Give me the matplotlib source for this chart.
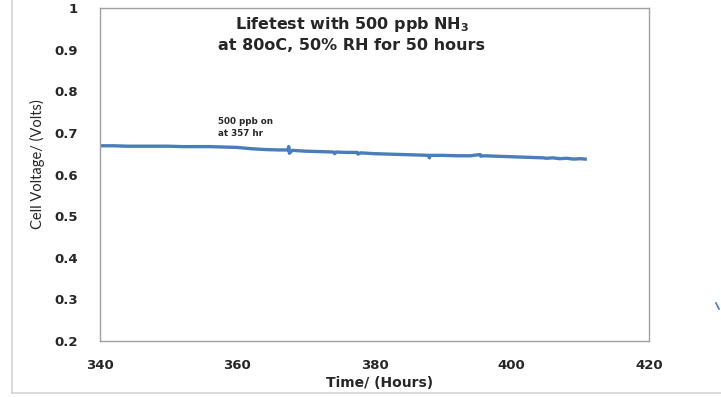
import matplotlib
matplotlib.use("Agg")
import matplotlib.pyplot as plt
from matplotlib.lines import Line2D

plt.rcParams['font.family'] = ['DejaVu Sans']

# cell voltage log, hours vs volts
hours = [340, 342, 344, 346, 348, 350, 352, 354, 356, 358, 360, 362, 364, 366,
         367.4, 367.5, 367.6, 368, 370, 372, 374, 374.2, 374.4, 376, 377.5, 377.6,
         378, 380, 382, 384, 386, 387.9, 388.0, 388.1, 390, 392, 394, 395.4, 395.5,
         396, 397.6, 404.6, 405, 406, 407, 408, 409, 410, 410.7]
volts = [0.669, 0.669, 0.668, 0.668, 0.668, 0.668, 0.667, 0.667, 0.667, 0.666, 0.665,
         0.662, 0.660, 0.659, 0.659, 0.667, 0.651, 0.658, 0.656, 0.655, 0.654, 0.650,
         0.654, 0.653, 0.653, 0.649, 0.652, 0.650, 0.649, 0.648, 0.647, 0.646, 0.640,
         0.646, 0.646, 0.645, 0.645, 0.648, 0.644, 0.645, 0.644, 0.640, 0.639, 0.640,
         0.638, 0.639, 0.637, 0.638, 0.637]

xticks = [340, 360, 380, 400, 420]
yticks = [0.2, 0.3, 0.4, 0.5, 0.6, 0.7, 0.8, 0.9, 1.0]
ytick_labels = ['0.2', '0.3', '0.4', '0.5', '0.6', '0.7', '0.8', '0.9', '1']

blue = '#4a7ebb'
txt = '#262626'
grey = '#a0a0a0'

fig = plt.figure(figsize=(7.21, 3.97), dpi=100)
ax = fig.add_axes([100 / 721, 56 / 397, 549 / 721, 333 / 397])

ax.plot(hours, volts, color=blue, lw=2.4, solid_joinstyle='round')

ax.set_xlim(340, 420)
ax.set_ylim(0.2, 1.0)
ax.set_xticks(xticks)
ax.set_yticks(yticks)
ax.set_yticklabels(ytick_labels)
ax.tick_params(length=0, labelsize=9.5, colors=txt)
ax.tick_params(axis='y', pad=16)
ax.tick_params(axis='x', pad=13)
for lab in ax.get_xticklabels() + ax.get_yticklabels():
    lab.set_fontweight('bold')
for s in ax.spines.values():
    s.set_color(grey)
    s.set_linewidth(1.0)

ax.set_xlabel('Time/ (Hours)', fontsize=10, fontweight='bold', color=txt)
ax.xaxis.set_label_coords(0.509, -0.104)
ax.set_ylabel('Cell Voltage/ (Volts)', fontsize=10.5, color=txt, family='Lato')
ax.yaxis.set_label_coords(-0.1, 0.53)

ax.text(0.458, 0.98, 'Lifetest with 500 ppb NH$_\\mathbf{3}$\nat 80oC, 50% RH for 50 hours',
        transform=ax.transAxes, ha='center', va='top', fontsize=11.5,
        fontweight='bold', color=txt, linespacing=1.4)

ax.text(357.2, 0.688, '500 ppb on\nat 357 hr', ha='left', va='bottom',
        fontsize=6.3, fontweight='bold', color=txt, linespacing=1.4)

# outer chart frame (left and bottom edges)
fig.add_artist(Line2D([12 / 721, 12 / 721], [1.0, 4 / 397],
                      transform=fig.transFigure, color='#d4d4d4', lw=1.2))
fig.add_artist(Line2D([12 / 721, 1.0], [4 / 397, 4 / 397],
                      transform=fig.transFigure, color='#d4d4d4', lw=1.2))
fig.add_artist(Line2D([716 / 721, 719 / 721], [94 / 397, 88 / 397],
                      transform=fig.transFigure, color=blue, lw=1.2))

fig.savefig('out.png', dpi=100)
